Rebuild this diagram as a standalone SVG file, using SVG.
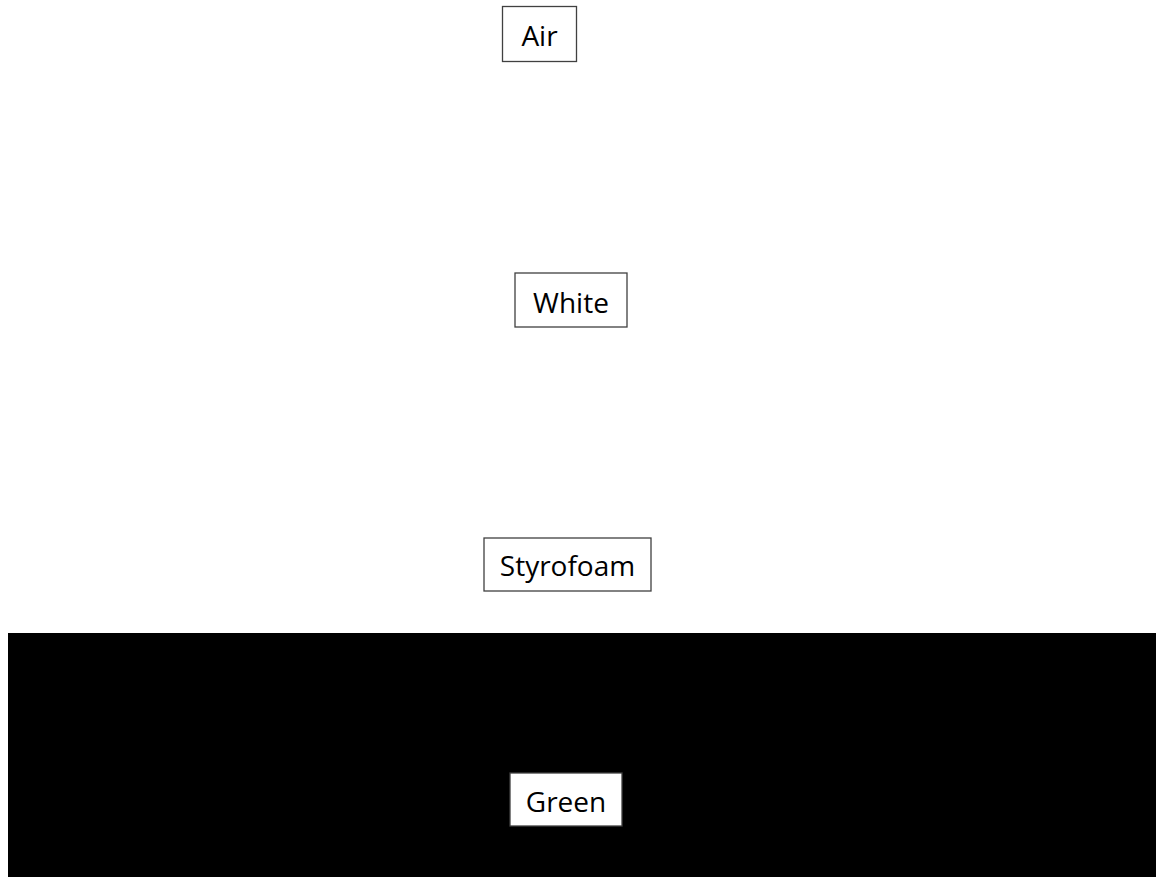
<svg xmlns="http://www.w3.org/2000/svg" width="1156" height="877" viewBox="0 0 1156 877">
<style>
.box{fill:#ffffff;stroke:#404040;stroke-width:1.3}
.lbl{font-family:"Open Sans","Noto Sans",sans-serif;font-size:28px;fill:#000000;text-anchor:middle}
</style>
<rect width="1156" height="877" fill="#ffffff"/>
<rect id="ground" x="8" y="633" width="1148" height="244" fill="#000000"/>
<g id="connectors"></g>
<g id="air"><rect class="box" x="502.5" y="6.5" width="74" height="55"/><text class="lbl" x="539.5" y="46">Air</text></g>
<g id="white"><rect class="box" x="515" y="273" width="112" height="54"/><text class="lbl" x="571" y="312.5">White</text></g>
<g id="styrofoam"><rect class="box" x="484" y="538" width="167" height="53"/><text class="lbl" x="567.5" y="576">Styrofoam</text></g>
<g id="green"><rect class="box" x="510" y="773" width="112" height="53"/><text class="lbl" x="566" y="812">Green</text></g>
</svg>
